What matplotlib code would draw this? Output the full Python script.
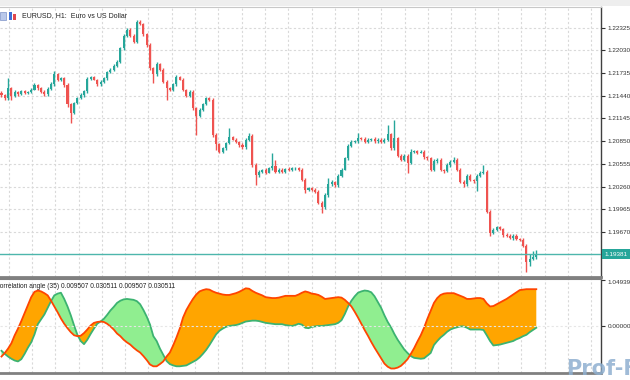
import matplotlib
matplotlib.use('Agg')
import matplotlib.pyplot as plt
import matplotlib.transforms as mtransforms
from matplotlib.patches import Rectangle
import numpy as np

plt.rcParams['font.family'] = ['Liberation Sans Narrow', 'Liberation Sans', 'DejaVu Sans']

# EURUSD H1 closes
closes = [
    1.2145, 1.2141, 1.2154, 1.2144, 1.2149, 1.2146, 1.2150, 1.2148, 1.2149, 1.2152,
    1.2158, 1.2154, 1.2149, 1.2146, 1.2153, 1.2159, 1.2172, 1.2165, 1.2167, 1.2158,
    1.2133, 1.2122, 1.2135, 1.2141, 1.2145, 1.2150, 1.2166, 1.2168, 1.2165, 1.2159,
    1.2162, 1.2167, 1.2175, 1.2178, 1.2183, 1.2188, 1.2206, 1.2222, 1.2230, 1.2222,
    1.2214, 1.2240, 1.2237, 1.2224, 1.2210, 1.2180, 1.2172, 1.2185, 1.2178, 1.2162,
    1.2154, 1.2152, 1.2159, 1.2168, 1.2165, 1.2152, 1.2144, 1.2149, 1.2128, 1.2118,
    1.2126, 1.2133, 1.2141, 1.2139, 1.2093, 1.2081, 1.2071, 1.2076, 1.2083, 1.2090,
    1.2087, 1.2084, 1.2080, 1.2077, 1.2087, 1.2092, 1.2054, 1.2041, 1.2045, 1.2048,
    1.2044, 1.2050, 1.2053, 1.2045, 1.2048, 1.2045, 1.2049, 1.2048, 1.2050, 1.2050,
    1.2048, 1.2035, 1.2022, 1.2024, 1.2022, 1.2019, 1.2005, 1.1999, 1.2015, 1.2029,
    1.2032, 1.2028, 1.2040, 1.2048, 1.2063, 1.2079, 1.2084, 1.2085, 1.2089, 1.2088,
    1.2084, 1.2087, 1.2088, 1.2085, 1.2087, 1.2084, 1.2087, 1.2094, 1.2076, 1.2089,
    1.2066, 1.2061, 1.2066, 1.2057, 1.2071, 1.2072, 1.2070, 1.2071, 1.2064, 1.2063,
    1.2048, 1.2059, 1.2061, 1.2048, 1.2046, 1.2054, 1.2058, 1.2061, 1.2048, 1.2032,
    1.2029, 1.2040, 1.2035, 1.2033, 1.2040, 1.2044, 1.2045, 1.1993, 1.1966, 1.1970,
    1.1973, 1.1971, 1.1963, 1.1962, 1.1959, 1.1962, 1.1958, 1.1957, 1.1949, 1.1928,
    1.1932, 1.1934, 1.19381]
first_open = 1.2148

# wick lengths in pips above / below the body
upper_wick = [
    2, 1, 13, 2, 2, 1, 2, 2, 1, 2,
    2, 1, 2, 2, 2, 3, 4, 2, 2, 1,
    2, 2, 1, 2, 2, 2, 3, 2, 2, 1,
    2, 2, 1, 2, 2, 2, 2, 2, 2, 2,
    2, 3, 2, 2, 1, 2, 2, 3, 2, 2,
    2, 2, 1, 3, 2, 2, 1, 2, 2, 2,
    2, 2, 2, 1, 2, 2, 2, 2, 1, 12,
    2, 2, 1, 2, 2, 3, 2, 2, 2, 1,
    2, 2, 17, 8, 2, 2, 1, 2, 2, 2,
    2, 2, 2, 1, 2, 2, 2, 2, 2, 8,
    2, 1, 2, 2, 2, 2, 2, 1, 6, 2,
    2, 2, 1, 2, 2, 2, 2, 12, 2, 23,
    2, 2, 2, 2, 4, 2, 1, 2, 2, 2,
    2, 3, 2, 2, 1, 2, 2, 3, 2, 2,
    2, 2, 2, 1, 2, 2, 9, 2, 2, 2,
    2, 2, 1, 2, 2, 2, 2, 1, 2, 2,
    6, 8, 6]
lower_wick = [
    2, 2, 3, 5, 2, 2, 1, 2, 2, 2,
    1, 2, 2, 2, 2, 1, 2, 2, 2, 2,
    4, 13, 2, 2, 1, 2, 2, 2, 1, 2,
    2, 2, 2, 1, 2, 2, 2, 2, 2, 2,
    2, 2, 1, 2, 2, 2, 12, 2, 2, 2,
    15, 2, 2, 2, 1, 2, 2, 2, 2, 25,
    2, 2, 1, 2, 2, 8, 2, 2, 2, 2,
    1, 2, 2, 2, 2, 2, 2, 13, 2, 2,
    2, 1, 2, 2, 2, 2, 1, 2, 2, 2,
    2, 2, 4, 2, 2, 2, 2, 8, 2, 2,
    2, 2, 2, 2, 1, 2, 2, 2, 2, 2,
    2, 1, 2, 2, 2, 2, 2, 2, 2, 2,
    2, 2, 2, 13, 2, 2, 2, 1, 2, 2,
    2, 2, 2, 2, 2, 1, 2, 2, 2, 2,
    4, 2, 2, 2, 13, 2, 2, 2, 4, 2,
    2, 2, 2, 2, 1, 2, 2, 2, 2, 13,
    5, 2, 2]

# correlation angle (35) indicator lines
red_line = [
    -0.68, -0.60, -0.50, -0.38, -0.20, -0.05, 0.12, 0.30, 0.48, 0.66,
    0.78, 0.81, 0.79, 0.75, 0.70, 0.58, 0.45, 0.32, 0.18, 0.06,
    -0.04, -0.13, -0.20, -0.22, -0.21, -0.15, -0.07, 0.02, 0.08, 0.10,
    0.11, 0.10, 0.06, 0.00, -0.07, -0.16, -0.22, -0.30, -0.36, -0.41,
    -0.48, -0.54, -0.59, -0.67, -0.76, -0.86, -0.90, -0.90, -0.85, -0.79,
    -0.68, -0.59, -0.43, -0.25, -0.05, 0.20, 0.37, 0.50, 0.62, 0.72,
    0.79, 0.82, 0.84, 0.83, 0.79, 0.76, 0.74, 0.72, 0.71, 0.71,
    0.73, 0.75, 0.78, 0.82, 0.86, 0.85, 0.80, 0.76, 0.73, 0.70,
    0.66, 0.65, 0.64, 0.64, 0.65, 0.67, 0.69, 0.69, 0.69, 0.69,
    0.72, 0.76, 0.79, 0.77, 0.74, 0.73, 0.71, 0.67, 0.62, 0.63,
    0.64, 0.65, 0.66, 0.65, 0.60, 0.53, 0.45, 0.33, 0.20, 0.06,
    -0.08, -0.21, -0.35, -0.48, -0.60, -0.72, -0.84, -0.91, -0.95, -0.95,
    -0.93, -0.89, -0.82, -0.74, -0.62, -0.49, -0.34, -0.20, -0.03, 0.17,
    0.35, 0.53, 0.64, 0.71, 0.74, 0.75, 0.75, 0.75, 0.72, 0.69,
    0.66, 0.62, 0.62, 0.63, 0.64, 0.64, 0.62, 0.52, 0.45, 0.46,
    0.50, 0.54, 0.58, 0.62, 0.67, 0.72, 0.77, 0.82, 0.83, 0.84,
    0.84, 0.84, 0.84]
green_line = [
    -0.55, -0.62, -0.68, -0.73, -0.77, -0.79, -0.74, -0.62, -0.48, -0.36,
    -0.18, 0.05, 0.16, 0.27, 0.42, 0.57, 0.70, 0.74, 0.76, 0.62,
    0.45, 0.25, 0.02, -0.19, -0.33, -0.40, -0.30, -0.17, -0.05, 0.06,
    0.11, 0.17, 0.26, 0.36, 0.44, 0.53, 0.58, 0.61, 0.62, 0.61,
    0.60, 0.57, 0.50, 0.37, 0.22, 0.04, -0.22, -0.33, -0.50, -0.64,
    -0.78, -0.85, -0.88, -0.90, -0.90, -0.89, -0.88, -0.84, -0.80, -0.76,
    -0.70, -0.62, -0.53, -0.42, -0.30, -0.18, -0.10, -0.05, -0.01, 0.01,
    0.02, 0.03, 0.05, 0.08, 0.11, 0.12, 0.13, 0.13, 0.12, 0.10,
    0.08, 0.07, 0.06, 0.05, 0.05, 0.05, 0.03, 0.02, 0.01, 0.03,
    0.06, 0.04, -0.03, -0.04, -0.01, 0.00, 0.01, 0.01, 0.02, 0.03,
    0.04, 0.05, 0.08, 0.14, 0.28, 0.45, 0.58, 0.68, 0.76, 0.79,
    0.81, 0.80, 0.77, 0.68, 0.55, 0.42, 0.25, 0.10, -0.02, -0.17,
    -0.30, -0.41, -0.52, -0.60, -0.67, -0.71, -0.72, -0.73, -0.72, -0.66,
    -0.60, -0.42, -0.33, -0.25, -0.19, -0.12, -0.07, -0.04, -0.02, 0.00,
    0.00, -0.03, -0.07, -0.07, -0.07, -0.07, -0.08, -0.20, -0.33, -0.43,
    -0.42, -0.41, -0.39, -0.37, -0.35, -0.33, -0.29, -0.26, -0.22, -0.19,
    -0.13, -0.08, -0.03]

price_ticks = [1.19670, 1.19965, 1.20260, 1.20555, 1.20850, 1.21145,
               1.21440, 1.21735, 1.22030, 1.22325]
ind_max = 1.049399
title = 'EURUSD, H1:  Euro vs US Dollar'
ind_title = 'Correlation angle (35) 0.009507 0.030511 0.009507 0.030511'

BULL = '#26a69a'
BEAR = '#ef5350'
GRID = '#d9d9d9'
TICK_FS = 4.6

W, H = 630, 380


def px_rect(x0, y0, x1, y1):
    # pixel box -> figure fraction [left, bottom, width, height]
    return [x0 / W, 1 - y1 / H, (x1 - x0) / W, (y1 - y0) / H]


fig = plt.figure(figsize=(6.3, 3.8), dpi=100, facecolor='white')
ax = fig.add_axes(px_rect(0, 7, 601, 277))
ax2 = fig.add_axes(px_rect(0, 279, 601, 372.5), sharex=ax)

n = len(closes)
idx = np.arange(n)
c = np.array(closes)
o = np.array([first_open] + closes[:-1])
hi = np.maximum(o, c) + np.array(upper_wick) * 0.0001
lo = np.minimum(o, c) - np.array(lower_wick) * 0.0001
col = np.where(c >= o, BULL, BEAR)

# vertical grid, every 7 bars or so
vgrid = np.arange(2.15, 182, 7.06)
for a in (ax, ax2):
    for v in vgrid:
        a.axvline(v, color=GRID, lw=0.8, ls=(0, (2, 2)), zorder=0)

# candles
ax.vlines(idx, lo, hi, colors=col, lw=1, zorder=2)
ax.bar(idx, np.maximum(np.abs(c - o), 0.00005), bottom=np.minimum(o, c),
       width=0.62, color=col, lw=0, zorder=3)

ax.set_xlim(-0.45, 181.6)
ax.set_ylim(1.19084, 1.22594)
ax.grid(axis='y', color=GRID, lw=0.8, ls=(0, (2, 2)), zorder=0)
ax.set_axisbelow(True)

# current price line + label
ax.axhline(closes[-1], color='#4db6ac', lw=1, zorder=4)
trans = mtransforms.blended_transform_factory(ax.transAxes, ax.transData)
ax.text(1.0055, closes[-1], f'{closes[-1]:.5f}', transform=trans, ha='left', va='center',
        fontsize=TICK_FS, color='white', clip_on=False,
        bbox=dict(boxstyle='square,pad=0.35', fc=BULL, ec='none'))

ax.yaxis.tick_right()
ax.set_yticks(price_ticks)
ax.set_yticklabels([f'{t:.5f}' for t in price_ticks])
ax.tick_params(axis='y', direction='out', length=3, width=0.8, colors='#333333',
               labelsize=TICK_FS, pad=1.5)
ax.tick_params(axis='x', bottom=False, labelbottom=False)

# indicator panel
r = np.array(red_line)
g = np.array(green_line)
ax2.fill_between(idx, r, g, where=r >= g, interpolate=True, color='#ffa500', lw=0, zorder=2)
ax2.fill_between(idx, r, g, where=r < g, interpolate=True, color='#90ee90', lw=0, zorder=2)
ax2.plot(idx, g, color='#3cb371', lw=1.3, zorder=3)
ax2.plot(idx, r, color='#ff4500', lw=1.3, zorder=4)
ax2.axhline(0, color='#e6e6e6', lw=0.8, ls=(0, (2, 2)), zorder=5)
ax2.set_ylim(-1.04, 1.07)
ax2.yaxis.tick_right()
ax2.set_yticks([0, ind_max])
ax2.set_yticklabels(['0.000000', f'{ind_max:.6f}'])
ax2.tick_params(axis='y', direction='out', length=3, width=0.8, colors='#333333',
                labelsize=TICK_FS, pad=1.5)
ax2.get_yticklabels()[1].set_va('top')
ax2.tick_params(axis='x', bottom=False, labelbottom=False)

# frames
for a in (ax, ax2):
    a.spines['left'].set_visible(False)
    a.spines['right'].set_color('#404040')
    a.spines['right'].set_linewidth(1)
ax.spines['top'].set_color('#c8c8c8')
ax.spines['top'].set_linewidth(0.8)
ax.spines['bottom'].set_color('#808080')
ax.spines['bottom'].set_linewidth(2)
ax2.spines['top'].set_color('#808080')
ax2.spines['top'].set_linewidth(1.5)
ax2.spines['bottom'].set_color('#808080')
ax2.spines['bottom'].set_linewidth(2)

# top strip and small chart icon
fig.patches.append(Rectangle((0, 1 - 6 / H), 1, 6 / H, transform=fig.transFigure,
                             fc='#eeeeee', ec='none', zorder=0))
fig.patches.append(Rectangle((0, 1 - 20 / H), 6 / W, 8 / H, transform=fig.transFigure,
                             fc='#b9c8ea', ec='#7f93c8', lw=0.5))
fig.patches.append(Rectangle((9 / W, 1 - 20 / H), 3 / W, 8 / H, transform=fig.transFigure,
                             fc='#3d6fd6', ec='none'))
fig.patches.append(Rectangle((13 / W, 1 - 20 / H), 3 / W, 6 / H, transform=fig.transFigure,
                             fc='#e0474c', ec='none'))

fig.text(22 / W, 1 - 16 / H, title, va='center', ha='left', fontsize=5.0, color='#222222')
fig.text(-5 / W, 1 - 287 / H, ind_title, va='center', ha='left', fontsize=4.8, color='#222222')

# watermark
fig.text(566 / W, 1 - 375 / H, 'Prof-Fx', va='baseline', ha='left', fontsize=15,
         fontweight='bold', color='#8fb0d0', alpha=0.85, family='DejaVu Sans')

fig.savefig('out.png', dpi=100)
